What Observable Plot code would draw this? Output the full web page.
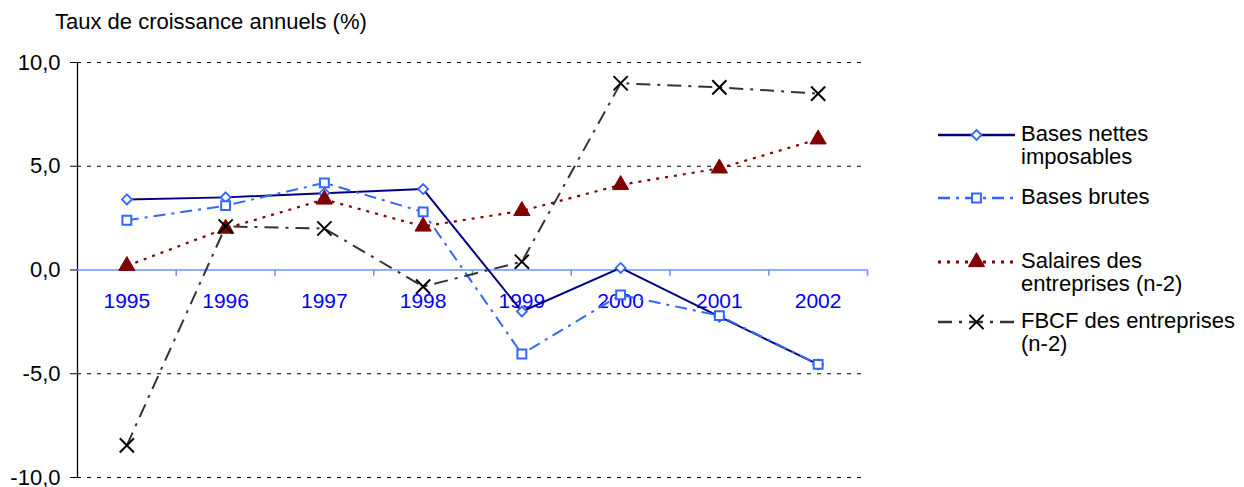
<!DOCTYPE html>
<html>
<head>
<meta charset="utf-8">
<script src="https://cdn.jsdelivr.net/npm/d3@7"></script>
<script src="https://cdn.jsdelivr.net/npm/@observablehq/plot@0.6"></script>
<style>
  body { margin: 0; background: #fff; font-family: "Liberation Sans", Arial, sans-serif; }
  #wrap { position: relative; width: 1244px; height: 487px; }
  #title { position: absolute; left: 55px; top: 9px; font-size: 22px; color: #000; white-space: nowrap; }
  #legend { position: absolute; left: 936px; top: 0; }
  .item { position: absolute; left: 0; width: 320px; }
  .item svg { position: absolute; left: 0; }
  .item .lab { position: absolute; left: 85px; top: -1px; font-size: 22px; line-height: 23px; color: #000; white-space: nowrap; }
</style>
</head>
<body>
<div id="wrap">
  <div id="chart"></div>
  <div id="title">Taux de croissance annuels (%)</div>
  <div id="legend"></div>
</div>
<script>
const years = ["1995","1996","1997","1998","1999","2000","2001","2002"];
const yTicks = [-10, -5, 0, 5, 10];
const gridLines = [-10, -5, 5, 10];

const seriesNames = [
  "Bases nettes imposables",
  "Bases brutes",
  "Salaires des entreprises (n-2)",
  "FBCF des entreprises (n-2)"
];
const basesNettes = [3.4, 3.5, 3.7, 3.9, -2.0, 0.1, -2.25, -4.55];
const basesBrutes = [2.4, 3.1, 4.2, 2.8, -4.05, -1.2, -2.2, -4.55];
const salaires    = [0.2, 2.0, 3.4, 2.1, 2.85, 4.1, 4.9, 6.3];
const fbcf        = [-8.45, 2.1, 2.0, -0.8, 0.4, 9.0, 8.8, 8.5];

const styles = [
  {stroke: "#000080", dash: null, width: 2, symbol: "diamond2", mstroke: "#3366ff", mfill: "#fff", r: 4.5, mw: 1.8},
  {stroke: "#3366ff", dash: "12,6,3,6", width: 2, symbol: "square", mstroke: "#3366ff", mfill: "#fff", r: 5, mw: 2},
  {stroke: "#800000", dash: "3,6", width: 2.2, symbol: "triangle", mstroke: "#800000", mfill: "#800000", r: 6, mw: 1},
  {stroke: "#333333", dash: "14,7,3,7", width: 2, symbol: "times", mstroke: "#000", mfill: "none", r: 6.5, mw: 2}
];
const allValues = [basesNettes, basesBrutes, salaires, fbcf];

const tables = allValues.map((vals, s) => vals.map((v, i) => ({xi: i + 0.5, v, year: years[i], s: seriesNames[s]})));
const boundaries = years.map((_, i) => i + 1);

const seriesMarks = tables.flatMap((t, s) => {
  const st = styles[s];
  return [
    Plot.line(t, {x: "xi", y: "v", stroke: st.stroke, strokeWidth: st.width, strokeDasharray: st.dash, strokeLinecap: "butt"}),
    Plot.dot(t, {x: "xi", y: "v", symbol: () => st.symbol, r: st.r, stroke: st.mstroke, fill: st.mfill, strokeWidth: st.mw})
  ];
});

const chart = Plot.plot({
  width: 1244,
  height: 487,
  marginLeft: 77,
  marginRight: 377,
  marginTop: 62,
  marginBottom: 10,
  style: {fontFamily: "Liberation Sans, Arial, sans-serif", fontSize: "22px", background: "#fff", overflow: "visible"},
  x: {type: "linear", domain: [0, years.length], axis: null},
  y: {domain: [-10, 10], axis: null},
  symbol: {type: "identity"},
  marks: [
    Plot.ruleY(gridLines, {y: d => d, stroke: "#000", strokeDasharray: "4,6", strokeWidth: 1}),
    Plot.axisY({ticks: yTicks, tickFormat: d => d.toFixed(1).replace(".", ","), tickSize: 7, tickPadding: 10, fontSize: 22, label: null, stroke: "#000", color: "#000"}),
    Plot.ruleX([0], {x: d => d, y1: -10, y2: 10, stroke: "#000", strokeWidth: 1.3}),
    Plot.ruleY([0], {y: d => d, stroke: "#6f93ff", strokeWidth: 1.6}),
    Plot.ruleX(boundaries, {x: d => d, y1: 0, y2: -0.3, stroke: "#6f93ff", strokeWidth: 1.6}),
    Plot.text(years, {x: (d, i) => i + 0.5, y: () => 0, text: d => d, dy: 31, fill: "#0000ff", fontSize: 21}),
    ...seriesMarks
  ]
});
document.getElementById("chart").appendChild(chart);

// legend
const legendLayout = [
  {y: 135, lines: ["Bases nettes", "imposables"]},
  {y: 198, lines: ["Bases brutes"]},
  {y: 262, lines: ["Salaires des", "entreprises (n-2)"]},
  {y: 322, lines: ["FBCF des entreprises", "(n-2)"]}
];
const legend = d3.select("#legend");
legendLayout.forEach((L, s) => {
  const st = styles[s];
  const item = legend.append("div").attr("class", "item").style("top", (L.y - 12) + "px");
  const svg = item.append("svg").attr("width", 82).attr("height", 24);
  svg.append("line").attr("x1", 2).attr("x2", 79).attr("y1", 12).attr("y2", 12)
    .attr("stroke", st.stroke).attr("stroke-width", st.width + 0.6)
    .attr("stroke-dasharray", st.dash);
  const sym = {diamond2: d3.symbolDiamond2, square: d3.symbolSquare, triangle: d3.symbolTriangle, times: d3.symbolTimes}[st.symbol];
  const size = st.r;
  svg.append("path").attr("transform", "translate(40.5,12)")
    .attr("d", d3.symbol(sym, Math.PI * size * size)())
    .attr("fill", st.mfill).attr("stroke", st.mstroke).attr("stroke-width", st.mw);
  item.append("div").attr("class", "lab").html(L.lines.join("<br>"));
});
</script>
</body>
</html>
